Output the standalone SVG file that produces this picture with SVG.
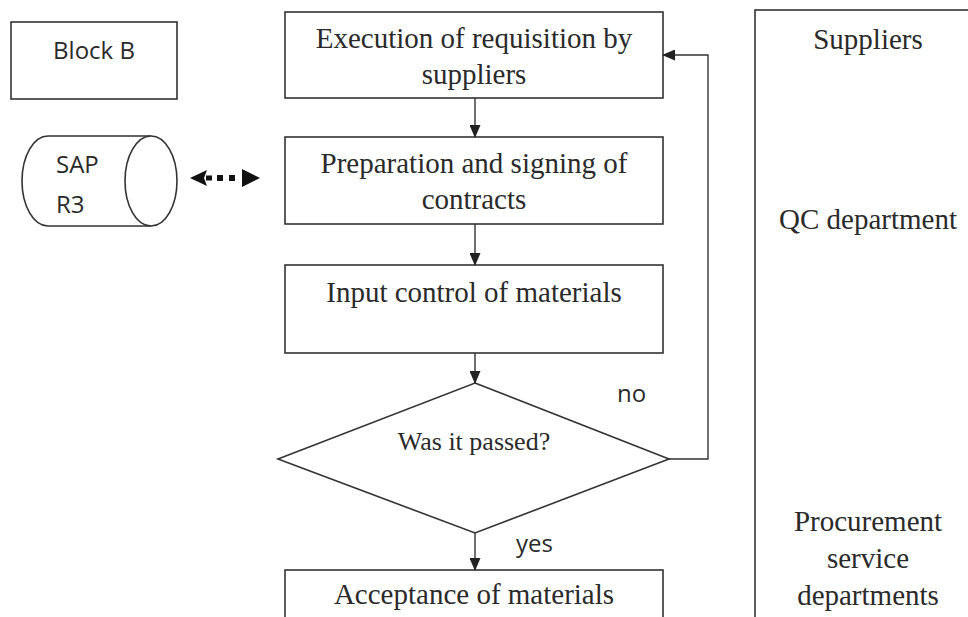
<svg xmlns="http://www.w3.org/2000/svg" width="968" height="617" viewBox="0 0 968 617">
<defs>
<style>
.box{fill:#fff;stroke:#333;stroke-width:1.6}
.ln{fill:none;stroke:#333;stroke-width:1.4}
.ser{font-family:"Liberation Serif","Times New Roman",serif;font-size:29px;fill:#2a2a2a;text-anchor:middle}
.san{font-family:"Open Sans","Liberation Sans",sans-serif;font-size:24px;fill:#2a2a2a}
</style>
<marker id="ah" markerWidth="13" markerHeight="11" refX="12" refY="5.5" orient="auto" markerUnits="userSpaceOnUse">
<path d="M0,0 L13,5.5 L0,11 Z" fill="#222"/>
</marker>
</defs>

<g id="blockB">
<rect class="box" x="11" y="22" width="166" height="77"/>
<text class="san" x="94" y="59" text-anchor="middle">Block B</text>
</g>

<g id="sap">
<path class="box" d="M151,136 H48 A26,45 0 0 0 48,226 H151"/>
<ellipse class="box" cx="151" cy="181" rx="26" ry="45"/>
<text class="san" x="56" y="173">SAP</text>
<text class="san" x="56" y="213">R3</text>
</g>

<g id="execution">
<rect class="box" x="285" y="12" width="378" height="86"/>
<text class="ser" x="474" y="48">Execution of requisition by</text>
<text class="ser" x="474" y="84">suppliers</text>
</g>

<g id="preparation">
<rect class="box" x="285" y="137" width="378" height="87"/>
<text class="ser" x="474" y="173">Preparation and signing of</text>
<text class="ser" x="474" y="209">contracts</text>
</g>

<g id="input">
<rect class="box" x="285" y="265" width="378" height="88"/>
<text class="ser" x="474" y="302">Input control of materials</text>
</g>

<g id="decision">
<polygon class="box" points="475,383 669,459 475,533 278,459"/>
<text class="ser" x="474" y="450" style="font-size:26px">Was it passed?</text>
</g>

<g id="acceptance">
<rect class="box" x="285" y="570" width="378" height="60"/>
<text class="ser" x="474" y="604">Acceptance of materials</text>
</g>

<g id="lanes">
<rect class="box" x="755" y="10" width="230" height="620"/>
<text class="ser" x="868" y="49">Suppliers</text>
<text class="ser" x="868" y="229">QC department</text>
<text class="ser" x="868" y="531">Procurement</text>
<text class="ser" x="868" y="568">service</text>
<text class="ser" x="868" y="605">departments</text>
</g>

<g id="connectors">
<line class="ln" x1="475" y1="98" x2="475" y2="137" marker-end="url(#ah)"/>
<line class="ln" x1="475" y1="224" x2="475" y2="265" marker-end="url(#ah)"/>
<line class="ln" x1="475" y1="353" x2="475" y2="383" marker-end="url(#ah)"/>
<line class="ln" x1="475" y1="533" x2="475" y2="570" marker-end="url(#ah)"/>
<polyline class="ln" points="669,459 708,459 708,55 663,55" marker-end="url(#ah)"/>
<g id="sapLink" fill="#111">
<path d="M190,178 L207,170 L204,178 L207,186 Z"/>
<rect x="206" y="175.5" width="6" height="5"/>
<rect x="217" y="175" width="6" height="6"/>
<rect x="229" y="175" width="6" height="6"/>
<path d="M260,178 L242,169 L242,187 Z"/>
</g>
<text class="san" x="617" y="402">no</text>
<text class="san" x="516" y="552">yes</text>
</g>
</svg>
